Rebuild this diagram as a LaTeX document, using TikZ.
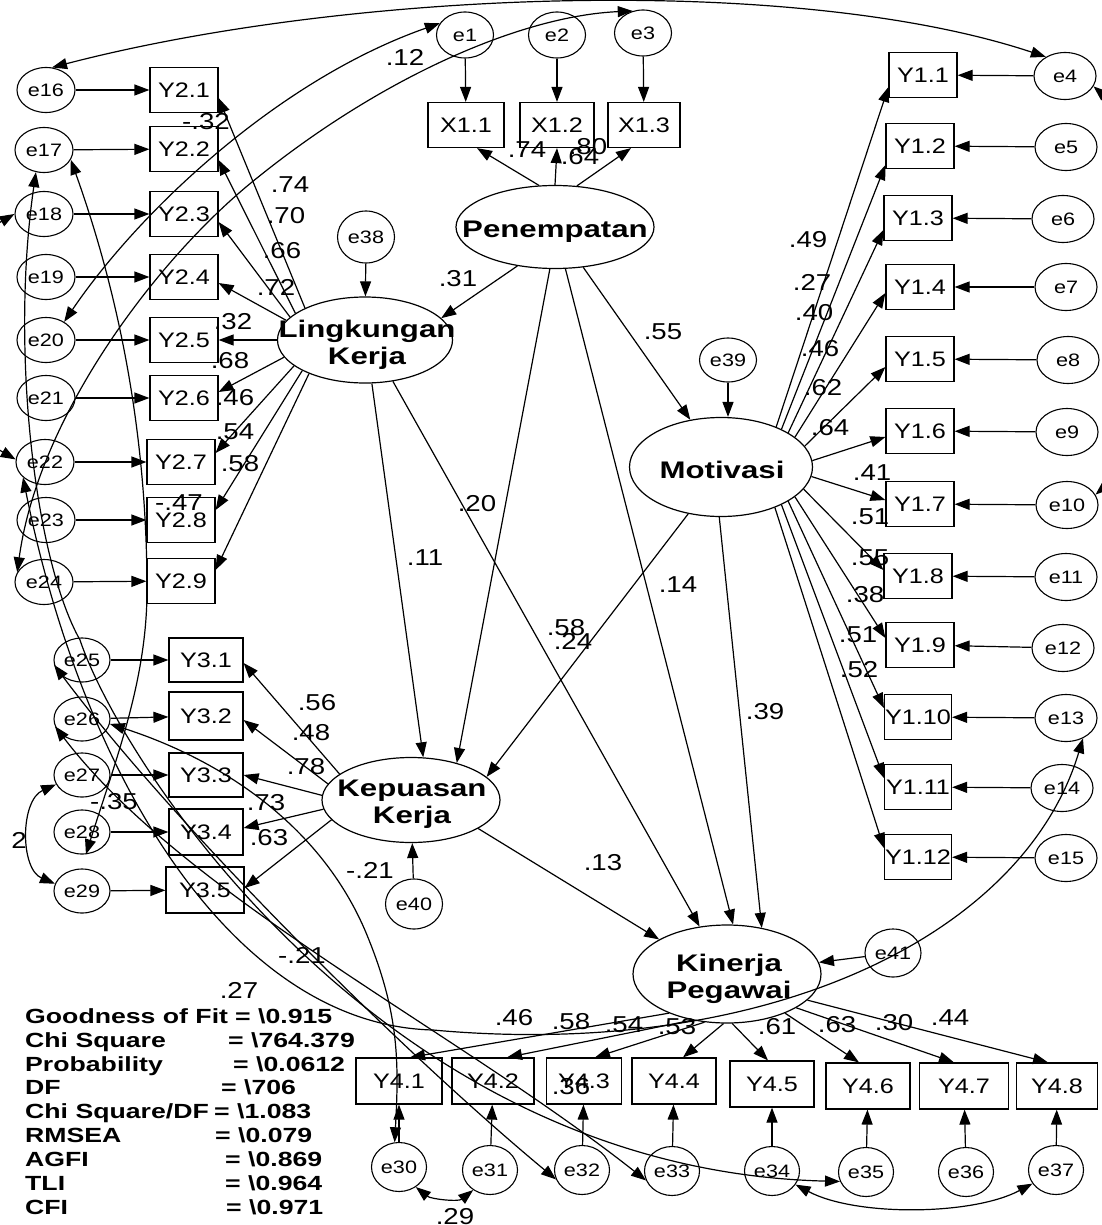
\documentclass[tikz,border=0pt]{standalone}
\usepackage{fontspec}
\setmainfont{Liberation Sans}[FakeStretch=1.2]
\newfontfamily\wbfamily{Liberation Sans}[FakeStretch=1.3]
\usetikzlibrary{shapes.geometric,arrows.meta,calc}
\newcommand{\errf}{\fontsize{18pt}{20pt}\selectfont}
\newcommand{\boxf}{\fontsize{21pt}{24pt}\selectfont}
\newcommand{\labf}{\fontsize{23pt}{26pt}\selectfont}
\newcommand{\latf}{\wbfamily\bfseries\fontsize{24pt}{26.5pt}\selectfont}
\newcommand{\fitf}{\wbfamily\bfseries\fontsize{20.5pt}{24pt}\selectfont}
\tikzset{
 ln/.style={line width=1.2pt},
 arr/.style={ln,-{Triangle[length=15pt,width=11pt]}},
 darr/.style={ln,{Triangle[length=15pt,width=11pt]}-{Triangle[length=15pt,width=11pt]}},
 err/.style={ellipse,draw,line width=1.1pt,inner sep=0pt,font=\errf},
 errT/.style={err,minimum width=57pt,minimum height=46pt},
 errR/.style={err,minimum width=62pt,minimum height=47pt},
 errL/.style={err,minimum width=58pt,minimum height=45pt},
 errM/.style={err,minimum width=56pt,minimum height=44pt},
 errB/.style={err,minimum width=55pt,minimum height=49pt},
 obs/.style={rectangle,draw,line width=1.2pt,inner sep=0pt,minimum width=68pt,minimum height=45pt,font=\boxf},
 lat/.style={ellipse,draw,line width=1.2pt,inner sep=0pt},
 lattxt/.style={font=\latf,align=center,inner sep=0pt},
 lab/.style={font=\labf,inner sep=0pt},
 fitx/.style={font=\fitf,inner sep=0pt,anchor=base west},
}
\begin{document}
\begin{tikzpicture}[x=1pt,y=-1pt]
\fill[white] (0,0) rectangle (1101,1225);
\useasboundingbox (0,0) rectangle (1101,1225);

% ---------- latent variables
\node[lat,minimum width=198pt,minimum height=83pt] (PE) at (555,227) {};
\node[lattxt] (PEt) at (555,232) {Penempatan};
\node[lat,minimum width=175pt,minimum height=86pt] (LK) at (365,340) {};
\node[lattxt] (LKt) at (367,345) {Lingkungan\\Kerja};
\node[lat,minimum width=183pt,minimum height=99pt] (MO) at (721,467) {};
\node[lattxt] (MOt) at (722,470) {Motivasi};
\node[lat,minimum width=178pt,minimum height=85pt] (KK) at (411,800) {};
\node[lattxt] (KKt) at (412,804) {Kepuasan\\Kerja};
\node[lat,minimum width=188pt,minimum height=98pt] (KP) at (727,974) {};
\node[lattxt] (KPt) at (729,979) {Kinerja\\Pegawai};

% ---------- top indicators
\node[errT] (e1) at (465,35) {e1};
\node[errT] (e2) at (557,35) {e2};
\node[errT] (e3) at (643,33) {e3};
\node[obs,minimum width=76pt] (X11) at (466,125) {X1.1};
\node[obs,minimum width=74pt] (X12) at (557,125) {X1.2};
\node[obs,minimum width=72pt] (X13) at (644,125) {X1.3};

% ---------- right indicators
\node[obs] (Y11) at (923,75) {Y1.1};
\node[obs] (Y12) at (920,146) {Y1.2};
\node[obs] (Y13) at (918,218) {Y1.3};
\node[obs] (Y14) at (920,287) {Y1.4};
\node[obs] (Y15) at (920,359) {Y1.5};
\node[obs] (Y16) at (920,431) {Y1.6};
\node[obs] (Y17) at (920,504) {Y1.7};
\node[obs] (Y18) at (918,576) {Y1.8};
\node[obs] (Y19) at (920,645) {Y1.9};
\node[obs,minimum width=67pt] (Y110) at (918,717) {Y1.10};
\node[obs,minimum width=67pt] (Y111) at (918,787) {Y1.11};
\node[obs,minimum width=67pt] (Y112) at (918,857) {Y1.12};
\node[errR] (e4) at (1065,76) {e4};
\node[errR] (e5) at (1066,147) {e5};
\node[errR] (e6) at (1063,219) {e6};
\node[errR] (e7) at (1066,287) {e7};
\node[errR] (e8) at (1068,360) {e8};
\node[errR] (e9) at (1067,432) {e9};
\node[errR] (e10) at (1067,505) {e10};
\node[errR] (e11) at (1066,577) {e11};
\node[errR] (e12) at (1063,648) {e12};
\node[errR] (e13) at (1066,718) {e13};
\node[errR] (e14) at (1062,788) {e14};
\node[errR] (e15) at (1066,858) {e15};

% ---------- left indicators (Y2)
\node[obs] (Y21) at (184,90) {Y2.1};
\node[obs] (Y22) at (184,149) {Y2.2};
\node[obs] (Y23) at (184,214) {Y2.3};
\node[obs] (Y24) at (184,277) {Y2.4};
\node[obs] (Y25) at (184,340) {Y2.5};
\node[obs] (Y26) at (184,398) {Y2.6};
\node[obs] (Y27) at (181,462) {Y2.7};
\node[obs] (Y28) at (181,520) {Y2.8};
\node[obs] (Y29) at (181,581) {Y2.9};
\node[errL] (e16) at (46,90) {e16};
\node[errL] (e17) at (44,150) {e17};
\node[errL] (e18) at (44,214) {e18};
\node[errL] (e19) at (46,277) {e19};
\node[errL] (e20) at (46,340) {e20};
\node[errL] (e21) at (46,398) {e21};
\node[errL] (e22) at (45,462) {e22};
\node[errL] (e23) at (46,520) {e23};
\node[errL] (e24) at (44,582) {e24};

% ---------- Y3
\node[obs,minimum width=74pt,minimum height=44pt] (Y31) at (206,660) {Y3.1};
\node[obs,minimum width=74pt,minimum height=48pt] (Y32) at (206,716) {Y3.2};
\node[obs,minimum width=74pt,minimum height=44pt] (Y33) at (206,775) {Y3.3};
\node[obs,minimum width=74pt,minimum height=46pt] (Y34) at (206,832) {Y3.4};
\node[obs,minimum width=78pt,minimum height=46pt] (Y35) at (205,890) {Y3.5};
\node[errM] (e25) at (82,660) {e25};
\node[errM] (e26) at (82,719) {e26};
\node[errM] (e27) at (82,775) {e27};
\node[errM] (e28) at (82,832) {e28};
\node[errM] (e29) at (82,891) {e29};

% ---------- Y4
\node[obs,minimum width=86pt,minimum height=46pt] (Y41) at (399,1081) {Y4.1};
\node[obs,minimum width=82pt,minimum height=46pt] (Y42) at (493,1081) {Y4.2};
\node[obs,minimum width=75pt,minimum height=46pt] (Y43) at (584,1081) {Y4.3};
\node[obs,minimum width=84pt,minimum height=46pt] (Y44) at (674,1081) {Y4.4};
\node[obs,minimum width=84pt,minimum height=46pt] (Y45) at (772,1084) {Y4.5};
\node[obs,minimum width=84pt,minimum height=46pt] (Y46) at (868,1086) {Y4.6};
\node[obs,minimum width=89pt,minimum height=46pt] (Y47) at (964,1086) {Y4.7};
\node[obs,minimum width=81pt,minimum height=46pt] (Y48) at (1057,1086) {Y4.8};
\node[errB] (e30) at (399,1167) {e30};
\node[errB] (e31) at (490,1170) {e31};
\node[errB] (e32) at (582,1170) {e32};
\node[errB] (e33) at (672,1171) {e33};
\node[errB] (e34) at (772,1171) {e34};
\node[errB] (e35) at (866,1172) {e35};
\node[errB] (e36) at (966,1172) {e36};
\node[errB] (e37) at (1056,1170) {e37};

% ---------- structural errors
\node[err,minimum width=57pt,minimum height=52pt] (e38) at (366,237) {e38};
\node[err,minimum width=57pt,minimum height=44pt] (e39) at (728,360) {e39};
\node[err,minimum width=57pt,minimum height=50pt] (e40) at (414,904) {e40};
\node[err,minimum width=56pt,minimum height=48pt] (e41) at (893,953) {e41};

% ---------- error -> indicator arrows
\foreach \a/\b in {e1/X11,e2/X12,e3/X13,
  e4/Y11,e5/Y12,e6/Y13,e7/Y14,e8/Y15,e9/Y16,e10/Y17,e11/Y18,e12/Y19,e13/Y110,e14/Y111,e15/Y112,
  e16/Y21,e17/Y22,e18/Y23,e19/Y24,e20/Y25,e21/Y26,e22/Y27,e23/Y28,e24/Y29,
  e25/Y31,e26/Y32,e27/Y33,e28/Y34,e29/Y35,
  e30/Y41,e31/Y42,e32/Y43,e33/Y44,e34/Y45,e35/Y46,e36/Y47,e37/Y48}
  \draw[arr] (\a) -- (\b);
\draw[arr] (e38) -- (LK);
\draw[arr] (e39.south) -- (e39.south |- MO.north);
\draw[arr] (e40) -- (KK);
\draw[arr] (e41) -- (KP);

% ---------- Penempatan loadings
\draw[arr] (PE.111) -- ($(X11.south)+(11,0)$);
\draw[arr] (PE.90) -- (X12.south);
\draw[arr] (PE.62) -- ($(X13.south)+(-13,0)$);

% ---------- structural paths
\draw[arr] (PE.226) -- (LK.16);
\draw[arr] (PE.305) -- (MO.123);
\draw[arr] (PE.263) -- (KK.39);
\draw[arr] (PE.284) -- (KP.83);
\draw[arr] (LK.279) -- (KK.74);
\draw[arr] (LK.304) -- (KP.120);
\draw[arr] (MO.235) -- (KK.17);
\draw[arr] (MO.268) -- (KP.53);
\draw[arr] (KK.337) -- (KP.153);

% ---------- Lingkungan loadings
\draw[arr] (LK.152) -- ($(Y21.east)+(0,8)$);
\draw[arr] (LK.159) -- ($(Y22.east)+(0,11)$);
\draw[arr] (LK.163) -- ($(Y23.east)+(0,8)$);
\draw[arr] (LK.166) -- ($(Y24.east)+(0,6)$);
\draw[arr] (LK.180) -- (Y25.east);
\draw[arr] (LK.192) -- ($(Y26.east)+(0,-6)$);
\draw[arr] (LK.200) -- ($(Y27.east)+(0,-9)$);
\draw[arr] (LK.206) -- ($(Y28.east)+(0,-10)$);
\draw[arr] (LK.211) -- ($(Y29.east)+(0,-11)$);

% ---------- Motivasi loadings
\draw[arr] (MO.36) -- ($(Y11.west)+(0,12)$);
\draw[arr] (MO.32) -- ($(Y12.west)+(0,19)$);
\draw[arr] (MO.27) -- ($(Y13.west)+(0,12)$);
\draw[arr] (MO.22) -- ($(Y14.west)+(0,6)$);
\draw[arr] (MO.14) -- ($(Y15.west)+(0,8)$);
\draw[arr] (MO.4) -- ($(Y16.west)+(0,6)$);
\draw[arr] (MO.354) -- ($(Y17.west)+(0,-4)$);
\draw[arr] (MO.345) -- ($(Y18.west)+(0,-6)$);
\draw[arr] (MO.338) -- ($(Y19.west)+(0,-7)$);
\draw[arr] (MO.333) -- ($(Y110.west)+(0,-9)$);
\draw[arr] (MO.328) -- ($(Y111.west)+(0,-9)$);
\draw[arr] (MO.323) -- ($(Y112.west)+(0,-9)$);

% ---------- Kepuasan loadings
\draw[arr] (KK.160) -- ($(Y31.east)+(0,3)$);
\draw[arr] (KK.169) -- ($(Y32.east)+(0,4)$);
\draw[arr] (KK.177) -- (Y33.east);
\draw[arr] (KK.186) -- ($(Y34.east)+(0,-4)$);
\draw[arr] (KK.194) -- ($(Y35.east)+(0,-2)$);

% ---------- Kinerja loadings
\draw[arr] (KP.214) -- ($(Y41.north)+(11,0)$);
\draw[arr] (KP.233) -- ($(Y42.north)+(14,0)$);
\draw[arr] (KP.245) -- ($(Y43.north)+(11,0)$);
\draw[arr] (KP.266) -- ($(Y44.north)+(9,0)$);
\draw[arr] (KP.276) -- ($(Y45.north)+(-4,0)$);
\draw[arr] (KP.326) -- ($(Y46.north)+(-9,0)$);
\draw[arr] (KP.334) -- ($(Y47.north)+(-10,0)$);
\draw[arr] (KP.342) -- ($(Y48.north)+(-9,0)$);

% ---------- covariances
\draw[darr] (e16.75) .. controls +(300,-78) and +(-250,-83) .. (e4.135);
\draw[darr] (e1.155) .. controls +(-160,56) and +(76,-112) .. (e20.45);
\draw[darr] (e3.115) .. controls (520,16) and (376,79) .. (246,187) .. controls (150,268) and (38,420) .. (e24.160);
\draw[darr] (e17.340) .. controls (121,300) and (147,440) .. (147,590) .. controls (147,680) and (116,759) .. (e28.280);
\draw[darr] (e26.350) .. controls (219,759) and (324,825) .. (369,940) .. controls (399,1015) and (399,1063) .. (e30.100);
\draw[darr] (e25.190) .. controls +(120,160) and +(-160,-133) .. (e32.200);
\draw[darr] (e26.195) .. controls +(130,170) and +(-190,-150) .. (e33.200);
\draw[darr] (e17.250) .. controls (10,350) and (35,560) .. (80,640) .. controls (120,760) and (380,1170) .. (e35.200);
\draw[darr] (e22.215) .. controls (83,777) and (233,1025) .. (433,1030) .. controls (763,1060) and (1023,938) .. (e13.310);
\draw[darr] (e18.180) .. controls +(-70,40) and +(-70,-40) .. (e22.175);
\draw[darr] (e4.340) .. controls +(70,60) and +(70,-60) .. (e10.20);
\draw[darr] (e27.200) .. controls +(-36,16) and +(-35,-15) .. (e29.165);
\draw[darr] (e30.310) .. controls +(15,12) and +(-15,12) .. (e31.230);
\draw[darr] (e34.330) .. controls +(60,32) and +(-60,32) .. (e37.210);

% ---------- coefficient labels
\node[lab] (l1) at (405,57) {.12};
\node[lab] (l2) at (206,122) {-.32};
\node[lab] (l3) at (290,185) {.74};
\node[lab] (l4) at (286,216) {.70};
\node[lab] (l5) at (282,251) {.66};
\node[lab] (l6) at (276,287) {.72};
\node[lab] (l7) at (458,279) {.31};
\node[lab] (l8) at (527,150) {.74};
\node[lab] (l9) at (580,157) {.64};
\node[lab] (l10) at (588,147) {.80};
\node[lab] (l11) at (233,322) {.32};
\node[lab] (l12) at (230,361) {.68};
\node[lab] (l13) at (235,398) {.46};
\node[lab] (l14) at (235,432) {.54};
\node[lab] (l15) at (240,464) {.58};
\node[lab] (l16) at (179,503) {-.47};
\node[lab] (l17) at (477,504) {.20};
\node[lab] (l18) at (425,558) {.11};
\node[lab] (l19) at (663,332) {.55};
\node[lab] (l20) at (808,240) {.49};
\node[lab] (l21) at (812,282) {.27};
\node[lab] (l22) at (814,313) {.40};
\node[lab] (l23) at (820,349) {.46};
\node[lab] (l24) at (823,388) {.62};
\node[lab] (l25) at (830,428) {.64};
\node[lab] (l26) at (872,473) {.41};
\node[lab] (l27) at (870,517) {.51};
\node[lab] (l28) at (870,558) {.55};
\node[lab] (l29) at (865,595) {.38};
\node[lab] (l30) at (858,635) {.51};
\node[lab] (l31) at (859,670) {.52};
\node[lab] (l32) at (678,585) {.14};
\node[lab] (l33) at (566,628) {.58};
\node[lab] (l34) at (573,641) {.24};
\node[lab] (l35) at (765,712) {.39};
\node[lab] (l36) at (603,863) {.13};
\node[lab] (l37) at (317,703) {.56};
\node[lab] (l38) at (311,733) {.48};
\node[lab] (l39) at (306,767) {.78};
\node[lab] (l40) at (266,803) {.73};
\node[lab] (l41) at (269,838) {.63};
\node[lab] (l42) at (114,802) {-.35};
\node[lab] (l43) at (19,840) {2};
\node[lab] (l44) at (370,870) {-.21};
\node[lab] (l45) at (302,955) {-.21};
\node[lab] (l46) at (239,990) {.27};
\node[lab] (l47) at (514,1018) {.46};
\node[lab] (l48) at (571,1022) {.58};
\node[lab] (l49) at (624,1025) {.54};
\node[lab] (l50) at (677,1027) {.53};
\node[lab] (l51) at (777,1027) {.61};
\node[lab] (l52) at (837,1025) {.63};
\node[lab] (l53) at (894,1023) {.30};
\node[lab] (l54) at (950,1018) {.44};
\node[lab] (l55) at (571,1087) {.36};
\node[lab] (l56) at (455,1217) {.29};

% ---------- fit statistics
\node[fitx] (f1) at (25,1023) {Goodness of Fit};
\node[fitx] (f2) at (25,1047) {Chi Square};
\node[fitx] (f3) at (25,1071) {Probability};
\node[fitx] (f4) at (25,1094) {DF};
\node[fitx] (f5) at (25,1118) {Chi Square/DF};
\node[fitx] (f6) at (25,1142) {RMSEA};
\node[fitx] (f7) at (25,1166) {AGFI};
\node[fitx] (f8) at (25,1190) {TLI};
\node[fitx] (f9) at (25,1214) {CFI};
\node[fitx] (v1) at (235,1023) {= \textbackslash0.915};
\node[fitx] (v2) at (228,1047) {= \textbackslash764.379};
\node[fitx] (v3) at (233,1071) {= \textbackslash0.0612};
\node[fitx] (v4) at (221,1094) {= \textbackslash706};
\node[fitx] (v5) at (214,1118) {= \textbackslash1.083};
\node[fitx] (v6) at (215,1142) {= \textbackslash0.079};
\node[fitx] (v7) at (225,1166) {= \textbackslash0.869};
\node[fitx] (v8) at (225,1190) {= \textbackslash0.964};
\node[fitx] (v9) at (226,1214) {= \textbackslash0.971};
\end{tikzpicture}
\end{document}
